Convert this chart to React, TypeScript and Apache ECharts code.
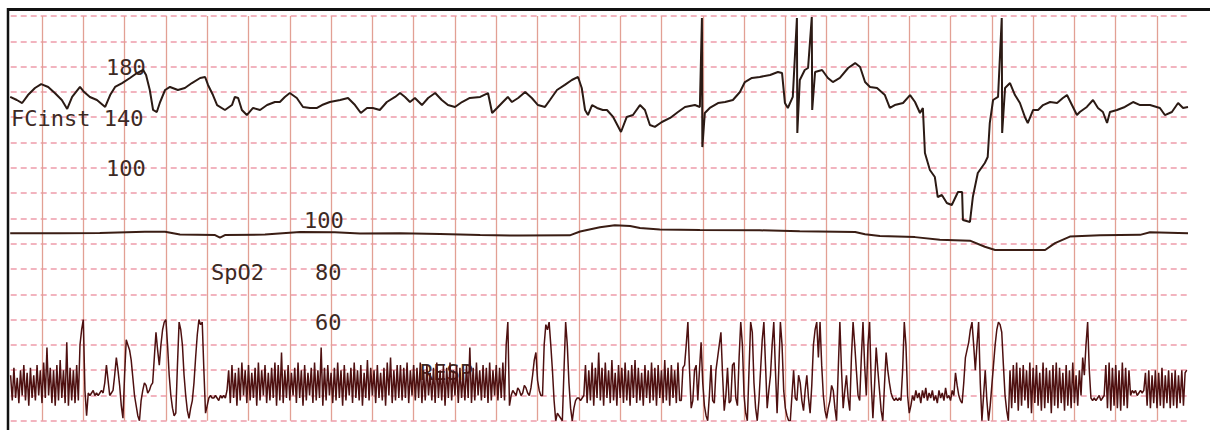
import React, { useEffect, useRef } from "react";
import * as echarts from "echarts";

// time in seconds (one vertical division = 10 s), instantaneous heart rate in bpm
const fcInst: [number, number][] = [
  [2.3, 156], [3.9, 153.6], [5.2, 151.2], [6.6, 157.5], [8.3, 163.1], [9.8, 166.2], [11.5, 163.9], [13.1, 159.1],
  [14.8, 153.6], [16.1, 146.5], [17.3, 156], [19.2, 163.9], [20.2, 159.9], [21.6, 156], [23.3, 153.6], [25.3, 148.1],
  [26.5, 157.5], [27.7, 163.9], [29.4, 167], [31.3, 171], [33, 174.9], [34.5, 177.3], [35.2, 173.4], [36.1, 161.5],
  [36.9, 145.7], [37.8, 144.1], [38.6, 152], [39.8, 161.5], [41, 163.9], [42.9, 161.5], [44.6, 163.1], [46.3, 167],
  [48.3, 171], [49.5, 171.8], [50.2, 165.5], [51.4, 157.5], [52.4, 149.6], [54.3, 145.7], [56, 149.6], [56.7, 156],
  [57.5, 155.2], [58.4, 145.7], [59.6, 141.7], [61.1, 147.3], [62.8, 145.7], [64.5, 149.6], [66.4, 152], [67.6, 152],
  [68.8, 156], [70, 159.1], [71.7, 155.2], [73.2, 148.1], [74.9, 147.3], [76.6, 147.3], [77.8, 149.6], [79.7, 152],
  [82.2, 153.6], [84.1, 155.2], [85.8, 149.6], [87.2, 143.3], [88.7, 147.3], [90.1, 147.3], [91.8, 145.7], [93.5, 152],
  [95.5, 156], [96.7, 159.1], [97.9, 156], [99.1, 152], [100.3, 155.2], [102, 149.6], [103.5, 155.2], [105.2, 159.1],
  [106.8, 153.6], [108.3, 149.6], [110, 148.1], [111.7, 152], [113.6, 155.2], [116.1, 156], [118, 159.1], [119, 143.3],
  [120.2, 147.3], [121.6, 152], [122.8, 156], [123.8, 152], [125.3, 155.2], [127, 159.9], [128.6, 155.2], [130.1, 149.6],
  [131.8, 148.1], [133, 153.6], [134.7, 161.5], [136.6, 165.5], [138.3, 169.4], [139.8, 171.8], [140.7, 163.1], [141.5, 145.7],
  [142.2, 141.7], [143.2, 149.6], [144.4, 147.3], [145.8, 145.7], [146.8, 145.7], [148.3, 140.2], [150.2, 128.3], [151.6, 140.2],
  [153.1, 141.7], [154.8, 149.6], [156, 145.7], [157.2, 133.8], [158.4, 132.3], [160.1, 136.2], [162.1, 139.4], [164, 144.1],
  [165.7, 148.1], [168.1, 149.6], [169.3, 148.1], [169.8, 218.4], [169.9, 116.4], [170.5, 143.3], [171.7, 147.3], [173.7, 151.2],
  [175.4, 152], [177.3, 153.6], [179, 159.9], [180.2, 167.8], [181.9, 171], [183.8, 171.8], [186.3, 173.4], [188.2, 175.7],
  [189.2, 174.9], [189.9, 151.2], [190.6, 147.3], [191.8, 156], [192.8, 218.4], [192.9, 127.5], [193.5, 169.4], [194.7, 177.3],
  [195.5, 178.9], [196.4, 219.2], [196.5, 145.7], [197.2, 175.7], [198.9, 177.3], [200.3, 171], [201.5, 167.8], [203.2, 171],
  [205.2, 178.9], [206.9, 182.8], [208.1, 179.7], [209.3, 167.8], [210.5, 163.9], [212.2, 163.1], [214.1, 157.5], [215.3, 147.3],
  [216.5, 149.6], [218.5, 151.2], [220.2, 157.5], [221.4, 152], [222.6, 143.3], [223.3, 147.3], [223.8, 111.7], [225, 98.3],
  [226.2, 92.7], [226.9, 76.9], [227.9, 78.5], [229.1, 72.2], [230.3, 70.6], [231.8, 80.9], [232.8, 80.9], [233, 58.7],
  [234.7, 57.2], [235.4, 76.9], [236.6, 95.9], [238.3, 103.8], [239, 108.5], [239.5, 135.4], [240.3, 153.6], [241.5, 156],
  [242.4, 218.4], [242.5, 127.5], [243.2, 163.1], [244.4, 167], [245.6, 157.5], [246.8, 151.2], [248, 140.2], [248.7, 135.4],
  [250, 145.7], [251.2, 145.7], [252.4, 149.6], [254.1, 152], [255.8, 151.2], [257.2, 155.2], [258.2, 157.5], [259.4, 149.6],
  [260.6, 141.7], [261.3, 144.1], [263, 148.1], [264.5, 153.6], [265.7, 147.3], [266.9, 144.1], [267.9, 135.4], [268.6, 144.1],
  [270.3, 145.7], [272.2, 148.1], [274.2, 152], [275.9, 149.6], [278.3, 149.6], [280.7, 147.3], [281.9, 141.7], [283.6, 144.1],
  [285.1, 151.2], [286.3, 147.3], [287.5, 148.1],
];

// oxygen saturation, %
const spo2: [number, number][] = [
  [2.3, 94.1], [14.4, 94.1], [24, 94.2], [34.9, 94.7], [39.8, 94.7], [43.4, 93.6], [51.9, 93.4], [53.1, 92.4],
  [54.3, 93.4], [64, 93.6], [72.5, 94.6], [80.9, 94.5], [87, 94], [96.7, 94.1], [106.4, 93.8], [116.1, 93.4],
  [125.7, 93.2], [137.8, 93.3], [140.3, 94.8], [145.1, 96.5], [148.7, 97.3], [152.4, 97], [154.8, 96.2], [159.6, 95.6],
  [169.3, 95.4], [183.8, 95.3], [193.5, 94.9], [206.9, 94.6], [209.3, 93.7], [212.9, 93], [221.4, 92.6], [227.4, 91.6],
  [234.7, 91.2], [238.3, 88.8], [240.8, 87.5], [252.9, 87.5], [255.3, 90.2], [258.9, 92.8], [266.2, 93.3], [275.9, 93.5],
  [278.3, 94.5], [287.5, 94.1],
];

// respiration (arbitrary units), sampled every respStep seconds from respStart
const respStart = 2.4;
const respStep = 0.4;
const respValues: number[] = [
  // 0-20
  18, 8, 21, 9, 17, 7, 20, 10, 22, 8, 19, 6, 21, 9, 18, 8, 22, 10, 20, 7, 23,
  // 21-46
  9, 29, 10, 21, 7, 20, 6, 22, 8, 24, 9, 20, 7, 31, 6, 21, 8, 20, 7, 22, 8, 30, 36, 40, 12, 2,
  // 47-62
  11, 10, 11, 12, 10, 11, 10, 11, 12, 11, 15, 22, 16, 10, 11, 12,
  // 63-119
  18, 25, 20, 14, 6, 1, 18, 32, 30, 28, 24, 17, 10, 6, 2, 0, 8, 12, 15, 14,
  11, 12, 14, 15, 25, 35, 28, 22, 30, 36, 39, 40, 30, 18, 10, 5, 2, 3, 22, 39,
  36, 30, 18, 10, 4, 1, 5, 8, 15, 25, 34, 40, 38, 39, 20, 3, 6,
  // 120-131
  9, 10, 9, 9, 10, 9, 8, 10, 9, 10, 9, 12,
  // 132-235
  20, 7, 22, 9, 19, 6, 21, 8, 23, 10, 20, 7, 22, 8, 19, 9, 21, 6, 23, 8,
  20, 10, 22, 7, 19, 8, 21, 9, 23, 6, 22, 8, 27, 7, 20, 9, 22, 8, 19, 10,
  21, 7, 23, 9, 20, 6, 22, 8, 19, 10, 21, 7, 23, 8, 20, 9, 29, 6, 21, 8,
  22, 10, 19, 7, 21, 8, 23, 9, 20, 6, 22, 8, 19, 10, 21, 7, 23, 9, 20, 8,
  22, 6, 19, 9, 24, 8, 21, 10, 20, 7, 22, 9, 19, 8, 21, 6, 23, 10, 25, 7,
  20, 8, 22, 9,
  // 236-301
  22, 8, 21, 9, 23, 7, 20, 10, 22, 8, 21, 9, 23, 7, 20, 8, 22, 10, 19, 8,
  21, 7, 23, 9, 20, 8, 22, 6, 21, 9, 23, 8, 20, 10, 22, 7, 21, 9, 19, 8,
  22, 9, 29, 7, 21, 8, 23, 10, 20, 8, 22, 9, 21, 7, 23, 8, 20, 10, 22, 8,
  21, 9, 23, 8, 30, 39,
  // 302-347
  6, 10, 12, 11, 10, 13, 12, 10, 11, 14, 13, 11, 10, 13, 18, 24, 27, 16, 12, 10,
  10, 30, 38, 36, 39, 30, 20, 8, 0, 3, 2, 1, 0, 20, 39, 30, 15, 5, 0, 5,
  8, 9, 9, 8, 9, 10,
  // 348-405
  22, 7, 20, 8, 23, 6, 21, 9, 27, 8, 21, 6, 23, 9, 20, 7, 24, 8, 19, 6,
  22, 9, 21, 7, 23, 8, 20, 6, 22, 9, 24, 7, 21, 8, 19, 6, 22, 9, 20, 7,
  23, 8, 21, 6, 22, 9, 20, 7, 24, 8, 21, 6, 22, 9, 20, 7, 23, 8,
  // 406-477
  8, 21, 22, 30, 39, 20, 5, 8, 20, 22, 8, 20, 31, 15, 6, 2, 0, 10, 22, 8,
  7, 20, 25, 30, 35, 18, 4, 10, 21, 7, 8, 22, 23, 9, 6, 25, 39, 30, 10, 3,
  0, 20, 39, 35, 15, 5, 0, 8, 20, 32, 39, 22, 5, 12, 18, 30, 39, 20, 3, 20,
  39, 30, 12, 5, 2, 0, 0, 10, 20, 9, 8, 18,
  // 478-535
  15, 8, 4, 12, 18, 9, 3, 14, 30, 36, 39, 25, 39, 22, 10, 4, 1, 5, 8, 14,
  12, 5, 0, 20, 39, 20, 5, 12, 18, 9, 4, 25, 39, 30, 20, 10, 8, 25, 39, 22,
  10, 30, 39, 15, 1, 14, 29, 20, 12, 4, 0, 14, 27, 20, 15, 11, 9, 8,
  // 536-545
  9, 8, 9, 8, 20, 39, 30, 10, 3, 6,
  // 546-571
  10, 8, 12, 9, 11, 7, 12, 9, 13, 8, 11, 9, 12, 8, 10, 7, 12, 9, 11, 8, 13, 9, 10, 8, 12, 10,
  // 572-604
  19, 14, 10, 8, 7, 15, 25, 28, 31, 36, 39, 30, 20, 30, 39, 15, 0, 10, 20, 8,
  0, 6, 14, 22, 30, 36, 39, 38, 35, 22, 10, 4, 0,
  // 605-647
  20, 5, 22, 7, 23, 4, 21, 6, 22, 8, 20, 5, 23, 3, 21, 7, 22, 6, 19, 4,
  23, 5, 21, 7, 20, 3, 22, 6, 23, 5, 21, 7, 19, 4, 22, 6, 20, 5, 23, 7,
  18, 6, 20,
  // 648-654
  10, 25, 18, 30, 39, 20, 9,
  // 655-662
  8, 9, 8, 9, 10, 8, 9, 10,
  // 663-677
  22, 5, 23, 4, 21, 6, 22, 5, 20, 4, 23, 6, 21, 5, 20,
  // 678-686
  10, 12, 11, 12, 10, 11, 12, 11, 12,
  // 687-712
  19, 6, 20, 5, 18, 7, 20, 5, 19, 6, 21, 5, 18, 7, 20, 5, 19, 6, 20, 5, 18, 7, 20, 6, 19, 20,
];

const MONO = '"DejaVu Sans Mono", "Liberation Mono", monospace';

function label(text: string, x: number, y: number) {
  return {
    type: "text",
    x,
    y,
    z: 1,
    style: {
      text,
      fill: "#3d2a24",
      font: `22px ${MONO}`,
      textAlign: "left",
      textVerticalAlign: "middle",
      align: "left",
      verticalAlign: "middle",
    },
  };
}

export default function App() {
  const ref = useRef<HTMLDivElement>(null);

  useEffect(() => {
    if (!ref.current) return;
    const chart = echarts.init(ref.current, null, { renderer: "svg" });
    const respData = respValues.map((v, i) => [respStart + i * respStep, v]);

    chart.setOption({
      animation: false,
      backgroundColor: "#ffffff",
      grid: { left: 0.7, right: 22, top: 16, bottom: 9.2 },
      xAxis: {
        type: "value",
        min: 0,
        max: 287.5,
        interval: 10,
        axisLine: { show: false },
        axisTick: { show: false },
        axisLabel: { show: false },
        splitLine: {
          show: true,
          showMinLine: false,
          showMaxLine: false,
          lineStyle: { color: "#e2a094", width: 1.3, type: "solid" },
        },
      },
      yAxis: [
        {
          type: "value",
          min: -100,
          max: 220,
          interval: 20,
          axisLine: { show: false },
          axisTick: { show: false },
          axisLabel: { show: false },
          splitLine: {
            show: true,
            lineStyle: { color: "#ee9cab", width: 1.6, type: [6, 4] },
          },
        },
        { type: "value", min: 20, max: 180, show: false, splitLine: { show: false } },
        { type: "value", min: 0, max: 160, show: false, splitLine: { show: false } },
      ],
      series: [
        {
          name: "RESP",
          type: "line",
          yAxisIndex: 2,
          data: respData,
          showSymbol: false,
          z: 3,
          lineStyle: { color: "#4e1010", width: 1.5 },
        },
        {
          name: "SpO2",
          type: "line",
          yAxisIndex: 1,
          data: spo2,
          showSymbol: false,
          z: 4,
          lineStyle: { color: "#3a1d14", width: 2 },
        },
        {
          name: "FCinst",
          type: "line",
          yAxisIndex: 0,
          data: fcInst,
          showSymbol: false,
          z: 5,
          lineStyle: { color: "#2b1a14", width: 2 },
        },
      ],
      graphic: [
        label("180", 106, 67),
        label("FCinst 140", 11, 118),
        label("100", 106, 168),
        label("100", 304, 220),
        label("SpO2", 211, 272),
        label("80", 315, 272),
        label("60", 315, 322),
        label("RESP", 420, 372),
        {
          type: "rect",
          z: 100,
          shape: { x: 0, y: 0, width: 7, height: 430 },
          style: { fill: "#ffffff" },
        },
        {
          type: "line",
          z: 101,
          shape: { x1: 7, y1: 9.5, x2: 1210, y2: 9.5 },
          style: { stroke: "#111111", lineWidth: 3 },
        },
        {
          type: "line",
          z: 101,
          shape: { x1: 8, y1: 8, x2: 8, y2: 430 },
          style: { stroke: "#111111", lineWidth: 2.5 },
        },
      ],
    });

    return () => chart.dispose();
  }, []);

  return (
    <div
      ref={ref}
      style={{ position: "absolute", left: 0, top: 0, width: 1210, height: 430 }}
    />
  );
}
